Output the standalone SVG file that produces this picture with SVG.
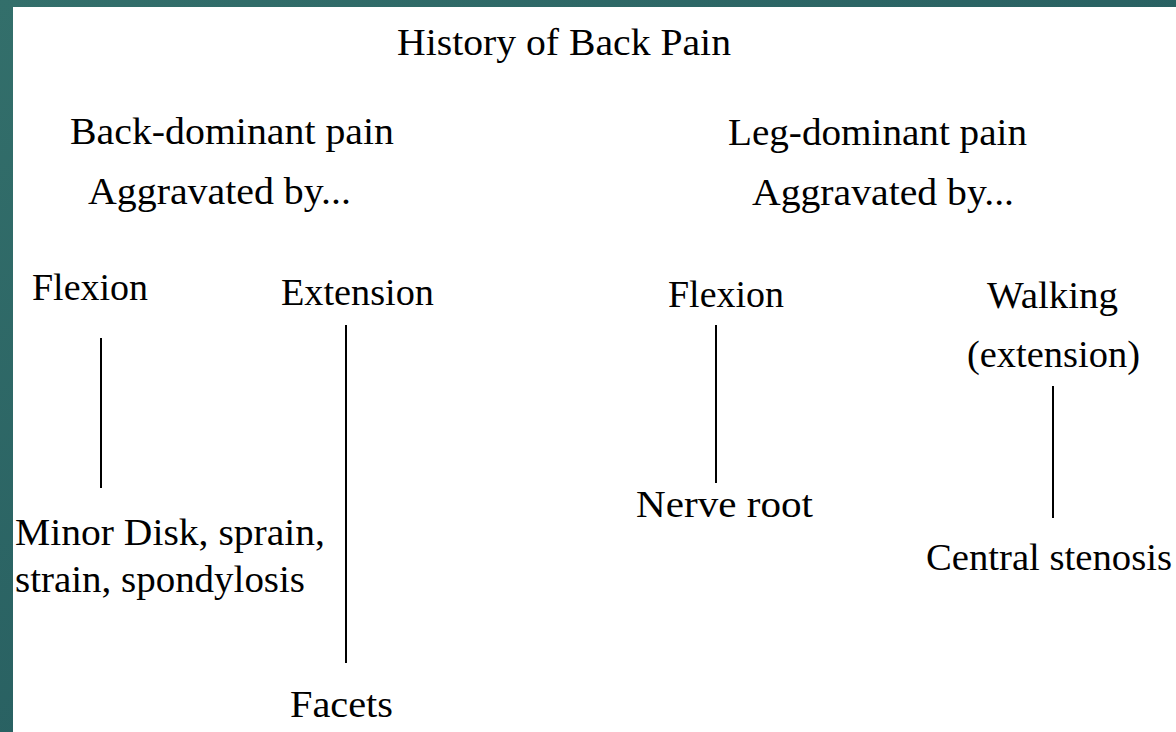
<svg xmlns="http://www.w3.org/2000/svg" width="1176" height="732" viewBox="0 0 1176 732">
<defs>
<linearGradient id="bg" x1="0" y1="0" x2="1" y2="1">
<stop offset="0" stop-color="#336f6b"/>
<stop offset="1" stop-color="#20545a"/>
</linearGradient>
<style>
text{font-family:"Liberation Serif","Times New Roman",serif;font-size:38px;fill:#000;}
.c line{stroke:#000;stroke-width:2;}
</style>
</defs>
<rect x="0" y="0" width="1176" height="732" fill="url(#bg)"/>
<rect x="13" y="7" width="1163" height="725" fill="#fff"/>
<g id="title"><text x="397" y="55" textLength="334" lengthAdjust="spacingAndGlyphs">History of Back Pain</text></g>
<g id="back-dominant">
<text x="70" y="144" textLength="324" lengthAdjust="spacingAndGlyphs">Back-dominant pain</text>
<text x="88" y="204" textLength="263" lengthAdjust="spacingAndGlyphs">Aggravated by...</text>
</g>
<g id="leg-dominant">
<text x="728" y="145" textLength="299" lengthAdjust="spacingAndGlyphs">Leg-dominant pain</text>
<text x="752" y="205" textLength="262" lengthAdjust="spacingAndGlyphs">Aggravated by...</text>
</g>
<g id="back-flexion"><text x="32" y="300" textLength="116" lengthAdjust="spacingAndGlyphs">Flexion</text></g>
<g id="back-extension"><text x="281" y="305" textLength="153" lengthAdjust="spacingAndGlyphs">Extension</text></g>
<g id="leg-flexion"><text x="668" y="307" textLength="116" lengthAdjust="spacingAndGlyphs">Flexion</text></g>
<g id="leg-walking">
<text x="987" y="308" textLength="131" lengthAdjust="spacingAndGlyphs">Walking</text>
<text x="967" y="367" textLength="173" lengthAdjust="spacingAndGlyphs">(extension)</text>
</g>
<g id="minor-disk">
<text x="15" y="545" textLength="310" lengthAdjust="spacingAndGlyphs">Minor Disk, sprain,</text>
<text x="15" y="592" textLength="290" lengthAdjust="spacingAndGlyphs">strain, spondylosis</text>
</g>
<g id="facets"><text x="290" y="717" textLength="103" lengthAdjust="spacingAndGlyphs">Facets</text></g>
<g id="nerve-root"><text x="636" y="517" textLength="177" lengthAdjust="spacingAndGlyphs">Nerve root</text></g>
<g id="central-stenosis"><text x="926" y="570" textLength="246" lengthAdjust="spacingAndGlyphs">Central stenosis</text></g>
<g id="connectors" class="c">
<line x1="101" y1="338" x2="101" y2="488"/>
<line x1="346" y1="325" x2="346" y2="663"/>
<line x1="716" y1="325" x2="716" y2="483"/>
<line x1="1053" y1="386" x2="1053" y2="518"/>
</g>
</svg>
